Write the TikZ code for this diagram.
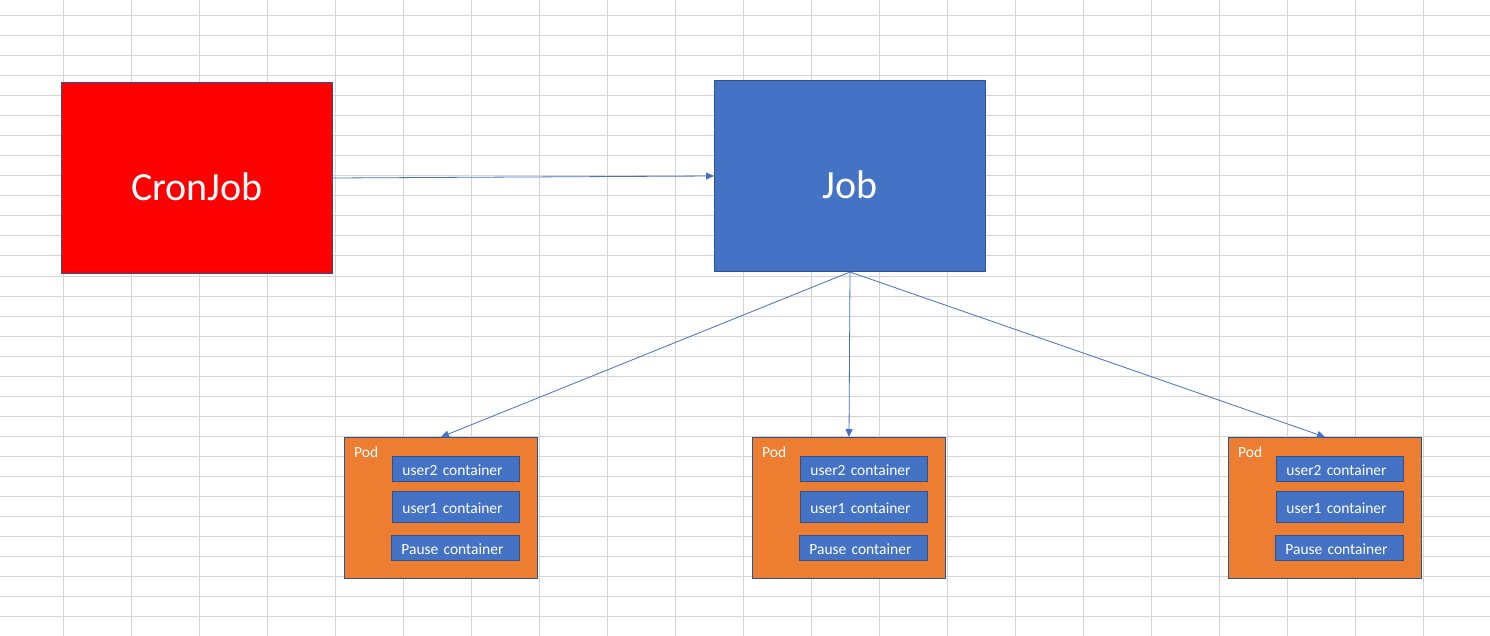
\documentclass[tikz,border=0pt]{standalone}
\usepackage{fontspec}
\setmainfont{Carlito}
\usetikzlibrary{arrows.meta}

\definecolor{jobblue}{HTML}{4472C4}
\definecolor{podorange}{HTML}{ED7D31}
\definecolor{edgeblue}{HTML}{2F528F}
\definecolor{cellgray}{HTML}{D4D4D4}

\begin{document}
\begin{tikzpicture}[x=1pt, y=-1pt,
  every node/.style = {inner sep=0pt, text=white},
  bigbox/.style = {draw=edgeblue, line width=1pt, anchor=north west,
    minimum width=271pt, minimum height=191pt,
    text height=46pt, text depth=0pt,
    font=\fontsize{40}{48}\selectfont},
  podbox/.style = {draw=edgeblue, fill=podorange, line width=1pt,
    anchor=north west, minimum width=193pt, minimum height=141pt},
  ctbox/.style = {draw=edgeblue, fill=jobblue, line width=0.8pt,
    anchor=north west, inner xsep=10pt, text width=107pt, align=left,
    text height=14pt, text depth=0pt,
    font=\fontsize{15.5}{18}\selectfont},
  link/.style = {draw=jobblue, line width=0.8pt,
    -{Triangle[length=8pt,width=7pt]}}
  ]
  \useasboundingbox[fill=white] (0,0) rectangle (1490,636);
  % sheet grid
  \foreach \i in {0,...,20}
    \draw[cellgray, line width=1pt] ({63.3+68*\i},0) -- ({63.3+68*\i},636);
  \foreach \j in {0,...,30}
    \draw[cellgray, line width=1pt] (0,{16+20*\j}) -- (1490,{16+20*\j});

  \node[bigbox, fill=red] (cronjob) at (61,82) {CronJob};
  \node[bigbox, fill=jobblue] (job) at (714,80) {Job};

  % pods
  \foreach \x/\n in {344/a, 752/b, 1228/c} {
    \node[podbox] (pod-\n) at (\x,437) {};
    \node[anchor=west, font=\fontsize{15.5}{18}\selectfont]
      (podlabel-\n) at (\x+10,452) {Pod};
    \node[ctbox, minimum height=25pt] (user2-\n) at (\x+48,455.5)
      {user2 container};
    \node[ctbox, minimum height=31pt] (user1-\n) at (\x+48,490.5)
      {user1 container};
    \node[ctbox, minimum height=25pt, text width=108pt] (pause-\n)
      at (\x+47,534.5) {Pause container};
  }

  \draw[link] (cronjob.east) -- (job.west);
  \draw[link] (job.south) -- (pod-a.north);
  \draw[link] (job.south) -- (pod-b.north);
  \draw[link] (job.south) -- (pod-c.north);
\end{tikzpicture}
\end{document}
